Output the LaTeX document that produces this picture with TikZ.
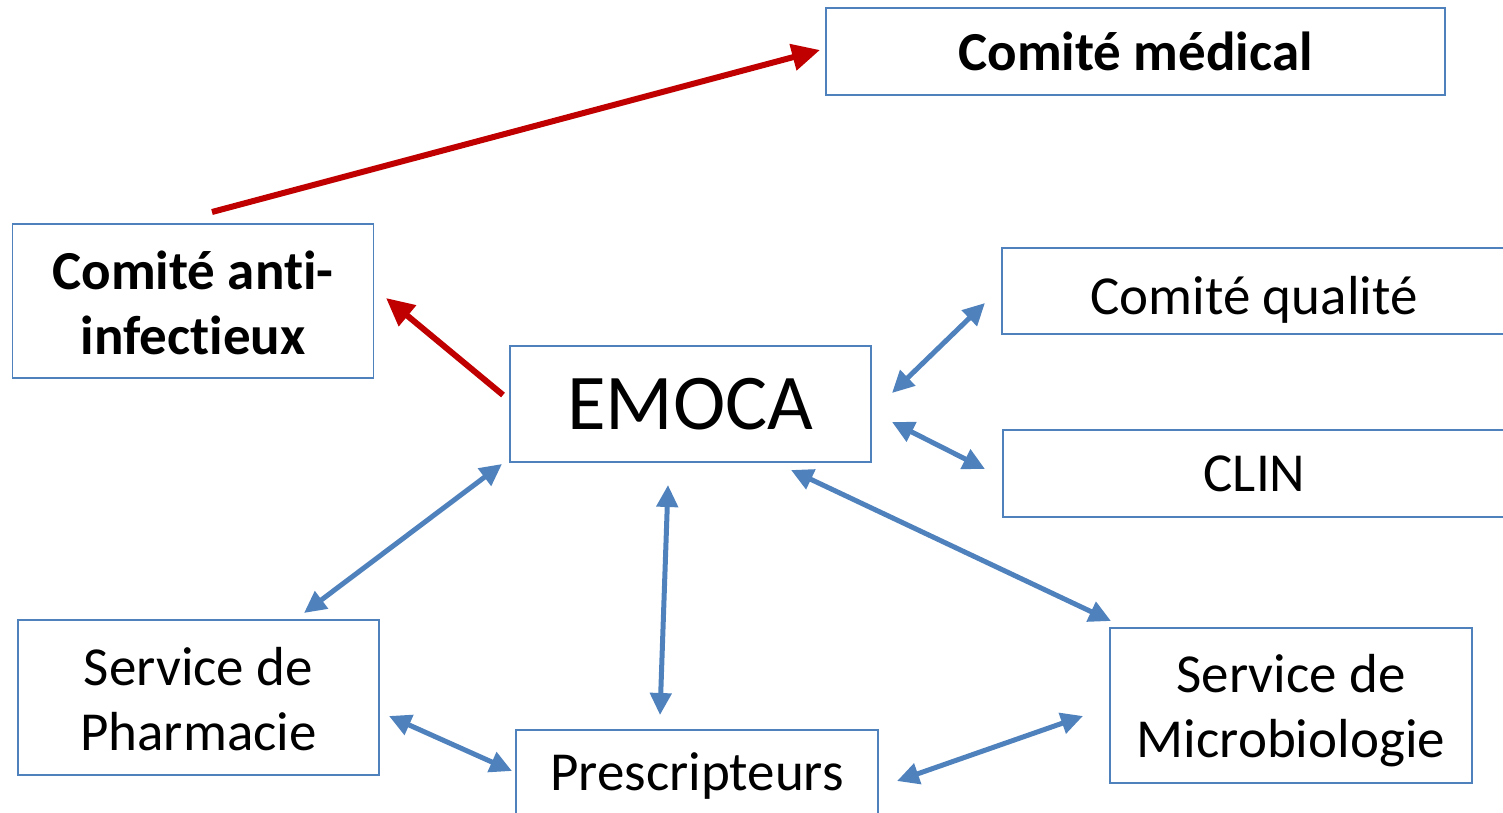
\documentclass[tikz,border=0pt]{standalone}
\usepackage{fontspec}
\setmainfont[Ligatures=NoCommon]{Carlito}
\usetikzlibrary{arrows.meta}
\definecolor{boxblue}{HTML}{4F81BD}
\definecolor{arrblue}{HTML}{4F81BD}
\definecolor{arrred}{HTML}{C00000}
\newcommand{\nolig}{\kern0pt{}}
\begin{document}
\begin{tikzpicture}[x=1pt,y=-1pt,
  box/.style={draw=boxblue,line width=1.5pt,fill=white,inner sep=0pt,align=center,font=\fontsize{55}{65}\selectfont},
  bbox/.style={box,font=\fontsize{55}{65}\selectfont\bfseries},
  redarr/.style={draw=arrred,line width=6pt,-{Triangle[length=28pt,width=26pt]}},
  bluearr/.style={draw=arrblue,line width=5pt,{Triangle[length=22pt,width=21pt]}-{Triangle[length=22pt,width=21pt]}}]
\useasboundingbox (0,0) rectangle (1503,813);
\begin{scope}
\clip (0,0) rectangle (1503,813);
\node[bbox,minimum width=619pt,minimum height=87pt] (med) at (1135.5,51.5) {Comité médical};
\node[bbox,minimum width=361pt,minimum height=154pt] (anti) at (193,301) {\rule{0pt}{42pt}Comité ant\nolig i-\\infect\nolig ieux};
\node[box,minimum width=361pt,minimum height=116pt,font=\fontsize{79}{90}\selectfont] (emoca) at (690.5,404) {EMOCA};
\node[box,minimum width=504pt,minimum height=86pt,text height=46pt,text depth=0pt] (qual) at (1254,291) {Comité qualité};
\node[box,minimum width=503pt,minimum height=87pt] (clin) at (1254.5,473.5) {CLIN};
\node[box,minimum width=361pt,minimum height=155pt] (pharm) at (198.5,697.5) {\rule{0pt}{42pt}Service de\\Pharmacie};
\node[box,minimum width=362pt,minimum height=87pt,text height=33pt,text depth=0pt] (presc) at (697,773.5) {Prescripteurs};
\node[box,minimum width=362pt,minimum height=155pt] (micro) at (1291,705.5) {\rule{0pt}{48pt}Service de\\Microbiologie};
\end{scope}
% arrow end points
\coordinate (a1) at (212,212);  \coordinate (b1) at (820,50);
\coordinate (a2) at (503,395);  \coordinate (b2) at (386,298);
\coordinate (a3) at (892,393);  \coordinate (b3) at (985,303);
\coordinate (a4) at (892,422);  \coordinate (b4) at (985,469);
\coordinate (a5) at (502,464);  \coordinate (b5) at (304,613);
\coordinate (a6) at (668,485);  \coordinate (b6) at (660,715);
\coordinate (a7) at (791,470);  \coordinate (b7) at (1111,621);
\coordinate (a8) at (389,716);  \coordinate (b8) at (512,771);
\coordinate (a9) at (897,781);  \coordinate (b9) at (1083,716);
\draw[redarr] (a1) -- (b1);
\draw[redarr] (a2) -- (b2);
\draw[bluearr] (a3) -- (b3);
\draw[bluearr] (a4) -- (b4);
\draw[bluearr] (a5) -- (b5);
\draw[bluearr] (a6) -- (b6);
\draw[bluearr] (a7) -- (b7);
\draw[bluearr] (a8) -- (b8);
\draw[bluearr] (a9) -- (b9);
\end{tikzpicture}
\end{document}
